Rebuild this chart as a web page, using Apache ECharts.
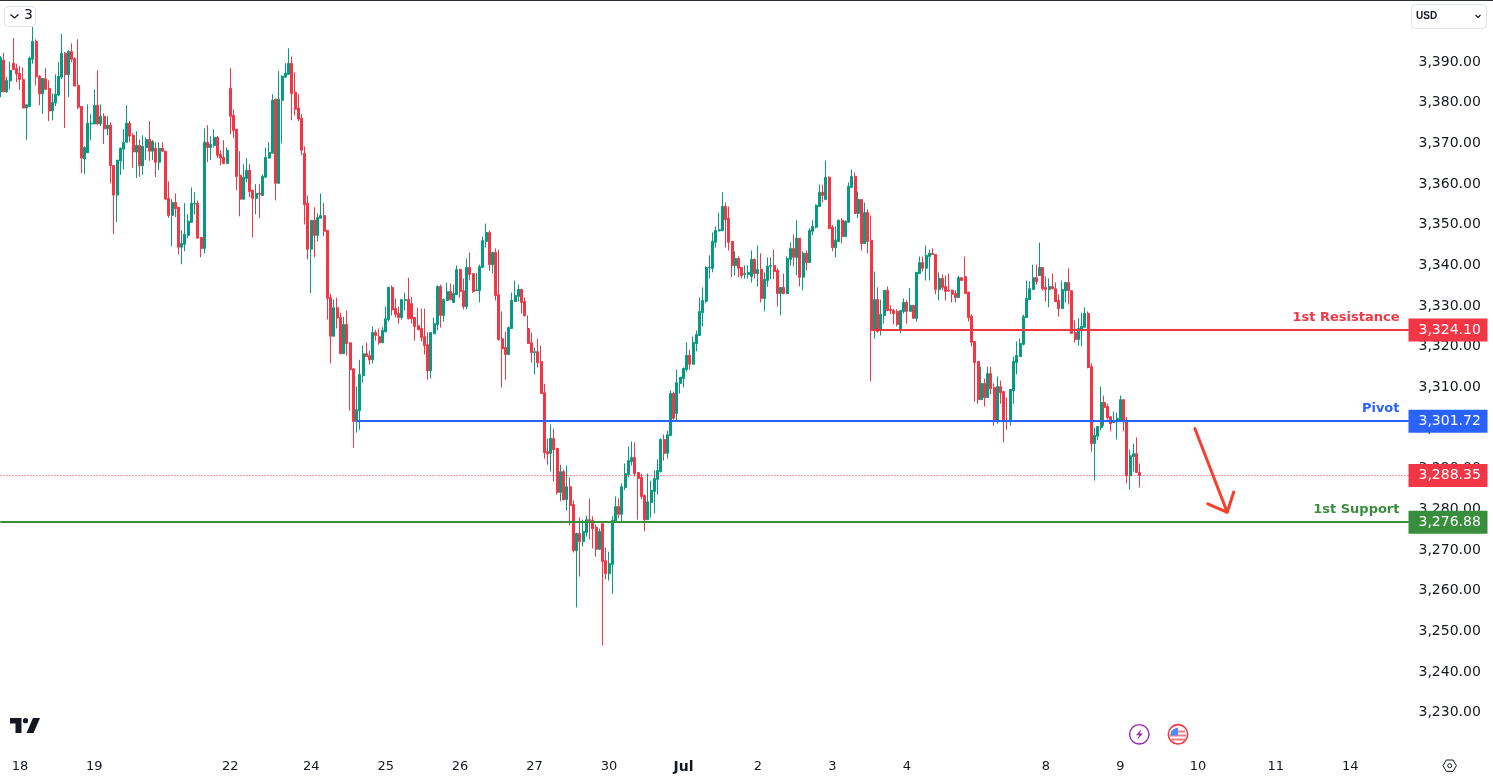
<!DOCTYPE html>
<html><head><meta charset="utf-8">
<style>html,body{margin:0;padding:0;background:#fff}#c{width:1493px;height:779px}</style>
<script src="https://cdn.jsdelivr.net/npm/echarts@6/dist/echarts.min.js"></script>
</head><body><div id="c"></div>
<script>
const opens=[3382.7,3390.5,3382.7,3385.4,3389.7,3388.4,3387.2,3385.7,3378.7,3379.1,
3390.7,3395.1,3386.5,3382.2,3385.9,3383.5,3378,3380,3381.9,3386.3,
3392.2,3386.9,3392.6,3390.9,3384.3,3379.1,3366.2,3367.7,3374.8,3374.8,
3379.4,3374.8,3376.7,3373.6,3374.5,3364.6,3357.3,3365.7,3368.6,3370.3,
3375,3372,3367.9,3369.5,3364.5,3369,3371,3368.1,3368.8,3365.4,
3368.8,3368.1,3356.5,3352.3,3355.5,3354.3,3344.5,3345.2,3347.4,3350.6,
3355.1,3355.3,3346.9,3344.2,3370.3,3369,3369.5,3371.5,3367.3,3366.6,
3365.1,3383.6,3376.9,3373.5,3362.2,3356.3,3361.4,3363.4,3358.5,3356.5,
3357.7,3357.2,3361.7,3366.4,3367.6,3380.9,3360.2,3380.6,3386.3,3387,
3389.7,3382.6,3378.7,3376.2,3367.6,3355.3,3344,3351.1,3347.4,3351.6,
3352.3,3348.6,3332.1,3322.6,3329.6,3327.2,3318.3,3325.5,3321,3314.6,
3301.6,3304.3,3312.9,3318.3,3317.8,3316.8,3323.5,3322.5,3321,3323.7,
3326.7,3334.6,3329.4,3328.2,3327.2,3331.4,3331.6,3330.6,3327.2,3325.2,
3324.5,3322.5,3320.5,3314.1,3323.2,3325.5,3334.8,3327.7,3331.4,3333.6,
3330.9,3332.8,3339,3333.8,3329.9,3339.5,3338,3333.8,3333.8,3339.5,
3345.9,3348.1,3340.2,3343.2,3332.8,3322,3319.8,3318.1,3324.5,3331.1,
3332.4,3334.1,3331.1,3324.5,3321,3318.6,3318.8,3316.4,3308.7,3294.2,
3293.8,3297.4,3295,3284.2,3289.3,3282.4,3285.6,3281.2,3269.9,3274.1,
3272.1,3274.3,3277.5,3277.3,3275.6,3270.2,3276.5,3267.4,3264.2,3266.5,
3277,3280.7,3278.8,3285.4,3288.6,3291.8,3292.8,3289.1,3287.9,3283.4,
3277.5,3281.7,3284.4,3287.4,3289.3,3297.2,3293.8,3298.2,3308.5,3303.6,
3311,3312.2,3314.4,3317.9,3315.7,3320.8,3322.8,3328.4,3331.2,3339.4,
3339.3,3345.7,3348.5,3348.6,3354.5,3351.6,3345.9,3340,3341.7,3339.5,
3337.8,3337.8,3337.3,3341.5,3338,3339,3331.9,3336.3,3339.8,3340,
3338.8,3333.1,3334.6,3333.1,3341.5,3344.2,3342,3346.7,3337.1,3343,
3340.7,3348.4,3349.4,3354.5,3358,3356.2,3361.7,3349.4,3344.4,3345.9,
3351.1,3347.1,3350.6,3359.2,3361.9,3352.8,3356.2,3345.4,3353,3346.2,
3324,3331.6,3324,3327.7,3333.9,3329.2,3328.9,3328.7,3324,3328.7,
3330.9,3328.7,3330.2,3327,3338,3340.7,3339.3,3342.2,3343,3342.7,
3334.1,3336.8,3334.8,3333.9,3333.9,3333.1,3332.1,3337,3337.3,3333.4,
3327.5,3321.3,3316.4,3307,3311,3307.5,3313.4,3310,3301.6,3310.2,
3309,3301.9,3301.6,3309.2,3316.1,3317.6,3320.6,3327.2,3331.6,3334.1,
3337,3337.5,3339.5,3334.6,3334.1,3334.8,3334.3,3331.4,3329.4,3333.8,
3335.8,3333.8,3323.5,3321.8,3324.2,3324.8,3328.2,3315.1,3296.2,3298,
3300.1,3306.3,3305.3,3302.8,3301.4,3301.6,3301.9,3307,3301.9,3288.3,
3293,3293.7,3289.1];
const highs=[3391.5,3392.3,3386.4,3390.1,3395.9,3389.6,3389,3388.7,3379.6,3391.4,
3398.7,3395.6,3386.8,3386,3388.5,3385.5,3382.3,3387,3390,3396.9,
3392.5,3392.9,3394.6,3391.2,3395.6,3379.1,3369.3,3379.6,3377.2,3383.3,
3388,3379.6,3377.4,3376.7,3375.2,3364.6,3365.9,3369,3373.5,3379.4,
3375.5,3372.5,3373,3371,3372,3371.5,3375.5,3370.8,3370.3,3370.3,
3370.3,3368.1,3360.7,3356.3,3357.7,3354.3,3348.6,3355.3,3352.6,3359.2,
3358,3356,3346.9,3373.7,3374.5,3371.8,3373.5,3371.8,3368.3,3370.8,
3369,3388.5,3378.4,3373.5,3368.1,3364.9,3366.4,3364.9,3358.5,3360,
3360,3362.4,3369,3370.3,3382.1,3381,3387.8,3386.8,3389.7,3393.4,
3391.4,3387.5,3382.1,3377.2,3369.3,3357.2,3351.1,3354.3,3352.8,3357.7,
3355.3,3348.6,3333,3331.6,3332.1,3328.4,3327.4,3328.9,3321,3314.6,
3310.2,3316.8,3320.3,3321,3319,3325,3324.2,3324.5,3324.8,3329.9,
3334.8,3335.1,3331.9,3329.9,3331.6,3333.3,3337,3332.3,3327.2,3329.6,
3329.4,3329.4,3323.5,3323.5,3327.2,3335.1,3335.3,3331.9,3335.8,3335.6,
3335.3,3340,3339.2,3336.8,3341.7,3343.2,3338,3338.2,3340.2,3347.1,
3350.3,3348.6,3343.4,3344.2,3343.9,3328.7,3323.7,3325,3333.3,3336.3,
3335.3,3334.3,3332.1,3327.7,3323.5,3319.8,3322,3320.3,3310.9,3297.4,
3300.9,3299.9,3295.2,3291,3289.8,3290.8,3287.9,3282.2,3274.3,3278,
3277.5,3278.5,3282.7,3278.3,3276.3,3275.3,3276.5,3270.6,3269.6,3278.3,
3283.2,3282.7,3286.4,3291.3,3295.5,3296.7,3296.5,3289.1,3288.8,3283.7,
3288.8,3287.1,3289.6,3292.3,3297.5,3298.4,3299.4,3309.3,3309,3314.4,
3312.5,3314.9,3321.1,3319.3,3322.5,3324,3332.1,3334.6,3339.8,3342.5,
3348.1,3349.6,3353,3358,3355.5,3354.5,3345.9,3343.5,3342.2,3339.5,
3340,3340,3343.7,3341.7,3344.9,3343,3338.3,3342,3342,3343.9,
3339.3,3334.6,3338,3342.2,3345.7,3347.6,3351.1,3346.7,3343.5,3343.7,
3349.1,3351.1,3355,3359.9,3359.9,3365.8,3361.9,3349.9,3349.6,3351.3,
3351.6,3351.1,3360.4,3363.6,3362.9,3358.2,3356.2,3355.5,3353.8,3352.3,
3338.5,3334.6,3331.6,3333.9,3334.8,3330.2,3329.4,3329.2,3328.9,3331.9,
3331.4,3334.4,3330.2,3338.3,3342.2,3342.2,3344.9,3343.9,3344.2,3342.7,
3338.3,3337.8,3337.5,3338,3334.1,3333.9,3337.5,3337,3342.2,3333.6,
3328,3321.3,3316.4,3315.1,3312.2,3315.1,3315.1,3311,3312.7,3311.7,
3309,3307.5,3309.5,3317.6,3321.3,3322,3327.9,3336.3,3336.1,3340.2,
3340.2,3345.6,3339.5,3337.3,3336.8,3338,3335.8,3332.9,3336.3,3336,
3339.3,3333.8,3326.5,3327,3328.4,3329.7,3328.7,3315.9,3300.1,3300.4,
3310.2,3308,3306,3302.8,3304.1,3303.8,3308,3307,3302.8,3294.7,
3296.2,3297.7,3291.3];
const lows=[3381.4,3382.6,3382.4,3383.4,3388,3385.1,3383.2,3378.7,3370.9,3379.1,
3389.6,3384.3,3379.4,3377.3,3383.3,3375.5,3375.7,3379.2,3381.6,3385.8,
3373.8,3381.4,3390,3384.1,3378.4,3362.7,3362.5,3367.7,3370.8,3374.8,
3374.6,3374.3,3369.9,3372,3360.2,3347.7,3350.7,3362.3,3363.6,3370.3,
3370.3,3364,3361.5,3361.8,3362.3,3365.9,3365.7,3365.9,3361.7,3363.4,
3367.9,3356.3,3351.7,3344.7,3351.9,3342.7,3340.3,3343.5,3346.7,3350.6,
3352.6,3346.7,3342,3343,3365.4,3365.9,3369,3366.4,3364.6,3364.9,
3364.9,3372.3,3371.3,3358.5,3352.1,3356.3,3360.4,3356.8,3346.9,3352.6,
3351.6,3357.2,3361.7,3366.3,3367.6,3356,3360.2,3370,3386.3,3387,
3375.7,3376.9,3375.5,3367.1,3350.1,3341.5,3333.2,3342,3345.9,3351.6,
3347.2,3326.7,3315.9,3322.6,3324.5,3318.3,3318.3,3317.8,3304.3,3295.2,
3298.9,3299.6,3311.2,3317.5,3315.6,3315.9,3321.5,3320.5,3321,3323.5,
3326.2,3327.7,3327.2,3325.7,3326.7,3328.9,3326.7,3325.7,3321.5,3324.2,
3321.3,3318.1,3311.9,3312.2,3323.2,3324,3324.7,3326.2,3331.4,3331.4,
3330.9,3332.8,3332.1,3329.2,3329.2,3336.3,3333.3,3333.8,3330.9,3339.5,
3344.4,3338.7,3338,3331.4,3321.5,3310,3311.9,3318.1,3324.5,3331.1,
3331.1,3328.2,3327.4,3320.8,3316.1,3313.2,3314.9,3308.5,3292.5,3291,
3289.3,3286.9,3283.7,3282,3282.2,3279.7,3276.1,3269.4,3255.9,3263.5,
3270.9,3273.3,3272.6,3270.4,3268.4,3270.2,3246.6,3262.8,3262.5,3259.3,
3277,3277.8,3277,3284.7,3287.9,3290.8,3288.1,3277.5,3282.5,3274.6,
3277.5,3278,3279,3283.7,3289.1,3292,3292.5,3298,3302.1,3301.9,
3308.5,3310,3313.9,3314.4,3315.7,3318.9,3322.8,3325,3330.7,3336.8,
3338.3,3344.4,3348.4,3348.4,3344.4,3343.7,3337.1,3337.5,3337.1,3336.8,
3336.8,3336.8,3335.8,3336.8,3334.8,3330.9,3328.7,3334.8,3336.6,3336.6,
3329.9,3327.7,3332.9,3332.9,3340,3339.8,3337.6,3334.8,3333.9,3338.8,
3340.7,3347.4,3349.1,3354.5,3355.5,3356.2,3348.9,3343.5,3342,3345.7,
3345.4,3347.1,3350.6,3359.2,3352.6,3351.6,3343.7,3345.4,3343,3311.5,
3322,3323.5,3322.8,3325.7,3328.9,3328,3325.5,3325,3323.3,3328.2,
3325.7,3328.7,3327,3326.2,3338,3338.5,3336.3,3336.3,3342.7,3332.9,
3331.4,3333.9,3331.4,3333.6,3330.9,3330.9,3332.1,3336.3,3333.1,3326.2,
3320.1,3306.5,3306,3307,3305.3,3307.5,3308.3,3300.6,3301.1,3306,
3296.5,3299.6,3300.6,3306,3313.2,3317.6,3320.3,3327.2,3331.6,3334.1,
3335.3,3337.5,3333.8,3331.1,3329.7,3334.1,3331.1,3327.4,3329.4,3330.9,
3330.4,3323.3,3321,3320.3,3320.1,3324.8,3314.7,3294.2,3287.1,3297,
3299.4,3300.6,3302.1,3299.2,3301.2,3297.2,3301.9,3299.2,3286.4,3284.9,
3289.3,3289.1,3285.4];
const closes=[3391.1,3382.7,3385.5,3388,3388.2,3387.1,3385.7,3378.7,3379.5,3391,
3395.1,3386.4,3382.2,3386,3383.3,3378,3380.1,3382.1,3386.5,3392.2,
3386.9,3392.6,3390.7,3384.1,3378.9,3366.4,3369,3375,3375,3379.4,
3374.8,3376.7,3373.6,3374.5,3364.5,3357.3,3365.9,3368.8,3370.3,3375,
3371.8,3367.9,3369.5,3364.5,3369.3,3371,3368.1,3370.5,3365.4,3368.8,
3368.1,3356.3,3352.3,3355.5,3354,3344.5,3345.4,3347.7,3350.9,3355.3,
3355.3,3346.7,3344.2,3370.3,3369,3369.8,3371.5,3367.1,3366.4,3365.1,
3368.3,3376.7,3373.2,3361.9,3356.3,3361.7,3363.4,3358.2,3356.5,3357.7,
3357.5,3361.9,3366.6,3367.8,3380.6,3360.2,3380.9,3386.5,3387.3,3389.7,
3382.3,3378.4,3376,3368.3,3355,3344,3351.1,3347.4,3351.8,3352.3,
3348.4,3331.9,3322.6,3329.6,3327.1,3318.3,3325.5,3320.8,3314.4,3301.6,
3304.5,3313.2,3318.3,3317.6,3316.8,3323.5,3322.8,3321,3324,3326.9,
3334.6,3329.1,3328,3327.2,3331.6,3331.6,3326.9,3326.9,3325,3324.2,
3322.3,3320.3,3314.1,3323.5,3325.7,3334.8,3327.7,3331.6,3333.6,3331.6,
3333.1,3339,3333.6,3329.9,3339.5,3337.8,3333.6,3334,3339.7,3346.1,
3348.1,3340.2,3343.2,3332.6,3321.8,3319.5,3318.1,3324.7,3331.4,3332.6,
3334.1,3330.9,3327.7,3320.8,3318.6,3318.8,3316.1,3308.5,3294,3293.7,
3297.5,3294.7,3284.2,3289.3,3282.4,3285.6,3281,3269.9,3274.1,3272.1,
3274.6,3277.5,3277.3,3275.3,3270.2,3274.6,3267.2,3264.2,3266.7,3277.3,
3280.7,3278.8,3285.6,3288.8,3292,3292.8,3288.8,3287.6,3283.2,3277.5,
3281.9,3284.7,3287.6,3289.6,3297.2,3293.8,3298.4,3308.5,3302.4,3311.2,
3312.5,3314.7,3317.9,3315.7,3321.1,3323,3328.7,3331.4,3339.5,3339.5,
3345.9,3348.6,3348.8,3354.5,3351.3,3345.7,3340,3341.7,3339.3,3337.5,
3338,3338.3,3341.5,3338,3339,3331.9,3336.6,3339.8,3340,3338.5,
3333.1,3334.6,3333.1,3341.7,3344.2,3342,3346.7,3337.1,3343,3340.7,
3348.6,3349.6,3354.8,3358,3357.2,3361.7,3349.1,3344.4,3346.2,3351.1,
3347.1,3350.8,3359.4,3361.9,3352.8,3356.2,3345.4,3353,3345.9,3324,
3331.6,3323.8,3328,3333.9,3328.9,3328.9,3328.2,3325.5,3328.9,3330.9,
3328.7,3330.2,3327,3338.3,3340.7,3339.3,3342.5,3343,3342.7,3334.1,
3336.8,3334.6,3333.6,3333.7,3332.9,3332.1,3337,3336.3,3333.1,3327.2,
3321.1,3316.1,3307,3311,3307.5,3313.4,3309.7,3301.6,3310.2,3308.7,
3301.9,3301.6,3309.5,3316.4,3317.9,3320.8,3327.4,3331.9,3334.3,3337,
3336,3339.5,3334.3,3334.1,3334.8,3334.3,3331.1,3329.4,3334.1,3335.8,
3333.8,3323.3,3321.8,3324.5,3325,3328.2,3314.9,3296.2,3298.2,3300.4,
3306.3,3305.1,3302.6,3301.1,3301.9,3302.4,3307,3301.6,3288.3,3293.2,
3293.7,3289.1,3288.35];

const dayLabels=['18','19','22','24','25','26','27','30','Jul','2','3','4','8','9','10','11','14'];
const dayBars=[6,29,71,96,119,142,165,188,211,234,257,280,323,346,370,394,417];
const barSlots=436;
const lastSlot=barSlots-1;

const resistance=3324.10, pivot=3301.72, support=3276.88, lastPrice=3288.35;
const resistanceFrom=269, pivotFrom=110, supportFrom=0, lastFrom=0;
const arrowPath=[[369,3299.9],[379,3279.3],[373,3281.4],[379,3279.3],[381,3284.3]];

const categories=Array.from({length:barSlots},(_,i)=>{const k=dayBars.indexOf(i);return k>=0?dayLabels[k]:'b'+i;});
const candles=opens.map((o,i)=>[o,closes[i],lows[i],highs[i]]);

const FONT='"DejaVu Sans"';
const UP='#089981',DOWN='#F23645',BLUE='#2962FF',GREEN='#388E3C',TXT='#131722';

function level(v,from,color,dash,name){
  const items=[[{coord:[from,v],label:{show:true,position:'end',distance:0,formatter:v.toFixed(2).replace(/^(\d)(\d{3})/,'$1,$2'),
      color:'#fff',backgroundColor:color,fontFamily:FONT,fontSize:14,width:61,align:'left',lineHeight:17,padding:[3,8,3,10]}},{coord:[lastSlot,v]}]];
  if(name)items.push([{coord:[from,v],label:{show:true,position:'insideEndTop',distance:6,formatter:name,color:color,
      fontFamily:FONT,fontSize:13,fontWeight:'bold',padding:[0,3,0,0]}},{coord:[lastSlot,v]}]);
  return {type:'line',data:[],z:1,silent:true,animation:false,
    markLine:{silent:true,animation:false,symbol:'none',lineStyle:{color,width:dash?1:2,type:dash?[1,2]:'solid',opacity:1},data:items}};
}

const chart=echarts.init(document.getElementById('c'),null,{renderer:'canvas'});
chart.setOption({
  animation:false,backgroundColor:'#fff',
  grid:{left:0.5,top:21.46,width:1408,height:732,containLabel:false,outerBoundsMode:'none'},
  xAxis:{type:'category',data:categories,boundaryGap:false,containShape:false,
    axisLine:{show:false},axisTick:{show:false},splitLine:{show:false},
    axisLabel:{interval:0,margin:7,color:TXT,fontFamily:FONT,fontSize:13,hideOverlap:false,
      formatter:v=>/^b/.test(v)?'':(v==='Jul'?'{b|Jul}':v),rich:{b:{fontWeight:'bold',fontFamily:FONT,fontSize:14,color:TXT}}}},
  yAxis:{type:'value',position:'right',min:3220,max:3400,interval:10,
    axisLine:{show:false},axisTick:{show:false},splitLine:{show:false},
    axisLabel:{margin:10,color:TXT,fontFamily:FONT,fontSize:14,
      formatter:v=>(v<3230||v>3390)?'':v.toFixed(2).replace(/^(\d)(\d{3})/,'$1,$2')}},
  series:[
    level(lastPrice,lastFrom,DOWN,true,null),
    level(support,supportFrom,GREEN,false,'1st Support'),
    level(pivot,pivotFrom,BLUE,false,'Pivot'),
    level(resistance,resistanceFrom,DOWN,false,'1st Resistance'),
    {type:'candlestick',data:candles,z:3,barWidth:2.5,progressive:0,animation:false,
      itemStyle:{color:UP,color0:DOWN,borderColor:UP,borderColor0:DOWN,borderWidth:1}},
    {type:'line',data:arrowPath,z:4,symbol:'none',silent:true,animation:false,
      lineStyle:{color:'#F6402F',width:3,cap:'round',join:'round'}}
  ],
  graphic:[
    {type:'rect',shape:{x:0,y:0,width:1493,height:1},style:{fill:'#2a2e39'},z:20},
    {type:'rect',shape:{x:4.5,y:6.5,width:31,height:20,r:4},style:{fill:'#fff',stroke:'#e0e3eb',lineWidth:1},z:20},
    {type:'polyline',shape:{points:[[10.5,14.5],[14.5,18],[18.5,14.5]]},style:{stroke:TXT,lineWidth:1.3,fill:null},z:21},
    {type:'text',x:24,y:8,style:{text:'3',fill:TXT,font:'14px '+FONT},z:21},
    {type:'rect',shape:{x:1411.5,y:4.5,width:75,height:24,r:4},style:{fill:'#fff',stroke:'#e0e3eb',lineWidth:1},z:20},
    {type:'text',x:1416,y:11,style:{text:'USD',fill:TXT,font:'bold 10px "Liberation Sans"'},z:21},
    {type:'polyline',shape:{points:[[1475.5,15],[1478,17.5],[1480.5,15]]},style:{stroke:TXT,lineWidth:1.2,fill:null},z:21},
    // TradingView mark
    {type:'polygon',shape:{points:[[10,718],[21.5,718],[21.5,733],[15.5,733],[15.5,723.5],[10,723.5]]},style:{fill:'#131722'},z:20},
    {type:'circle',shape:{cx:25.5,cy:720.7,r:2.6},style:{fill:'#131722'},z:20},
    {type:'polygon',shape:{points:[[33,718],[40,718],[33.5,733],[26.5,733]]},style:{fill:'#131722'},z:20},
    // lightning badge
    {type:'circle',shape:{cx:1139.3,cy:734.3,r:9.7},style:{fill:'#fff',stroke:'#9C27B0',lineWidth:1.4},z:20},
    {type:'polygon',shape:{points:[[1141.5,729],[1136,735.2],[1139.2,735.2],[1137.2,739.5],[1143,733.4],[1139.6,733.4]]},style:{fill:'#9C27B0'},z:21},
    // flag badge
    {type:'circle',shape:{cx:1178,cy:734.3,r:9.7},style:{fill:'#fff',stroke:'#F23645',lineWidth:1.6},z:20},
    {type:'rect',shape:{x:1171,y:730.5,width:14,height:2},style:{fill:'#F77C80'},z:21},
    {type:'rect',shape:{x:1170,y:734.5,width:16,height:2},style:{fill:'#F77C80'},z:21},
    {type:'rect',shape:{x:1171,y:738.5,width:14,height:2},style:{fill:'#F77C80'},z:21},
    {type:'polygon',shape:{points:[[1170.5,735.5],[1178,735.5],[1178,727.5],[1173.5,729],[1171,732]]},style:{fill:'#4C8DF5'},z:22},
    // settings gear
    {type:'polygon',shape:{points:[[1443,765.7],[1446.3,760],[1453.1,760],[1456.4,765.7],[1453.1,771.4],[1446.3,771.4]]},style:{fill:'none',stroke:TXT,lineWidth:1},z:20},
    {type:'circle',shape:{cx:1449.7,cy:765.7,r:2},style:{fill:'none',stroke:TXT,lineWidth:1},z:20}
  ]
});
</script></body></html>
